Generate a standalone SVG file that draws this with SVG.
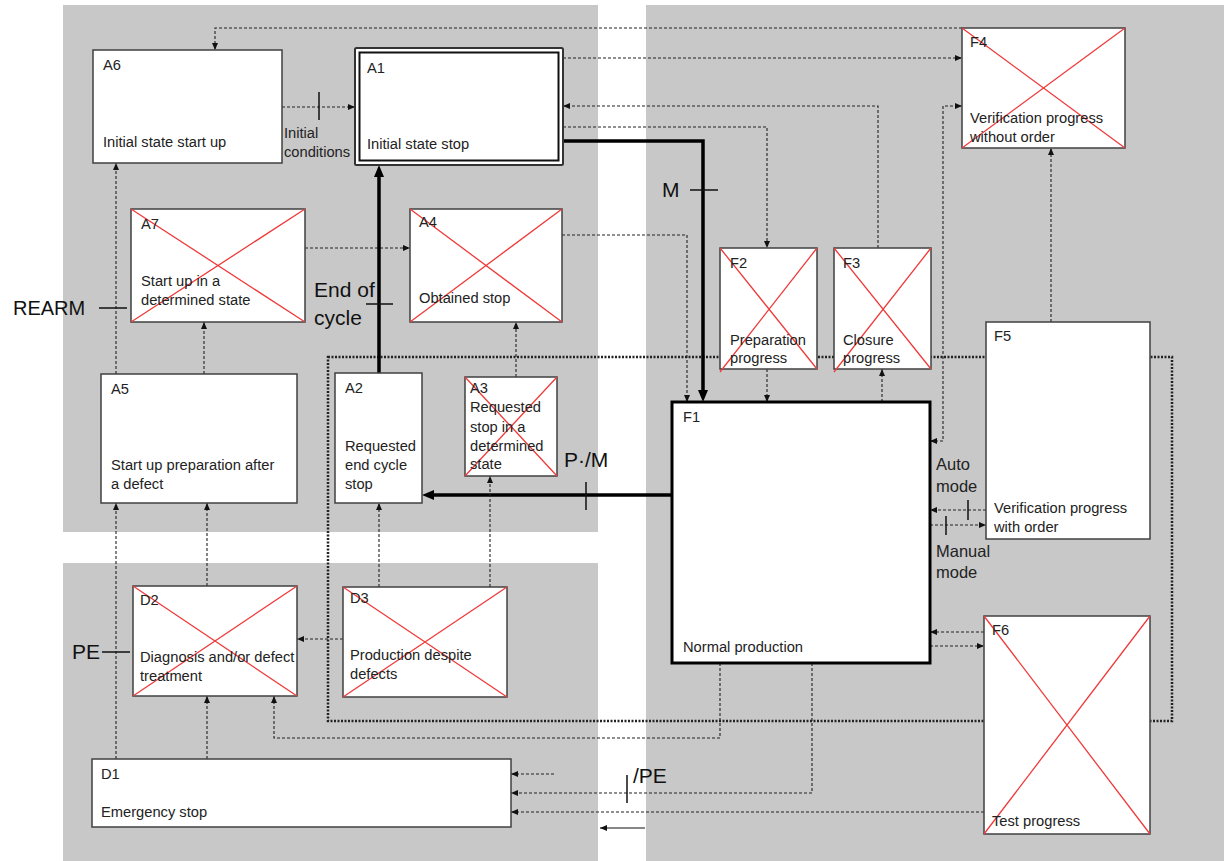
<svg xmlns="http://www.w3.org/2000/svg" width="1224" height="861" viewBox="0 0 1224 861">
<style>
.bg{fill:#c8c8c8}
.box{fill:#fff;stroke:#404040;stroke-width:1.5}
.x{stroke:#f03a3a;stroke-width:1.3;fill:none}
.t{font-family:"Liberation Sans",Arial,sans-serif;font-size:14.7px;fill:#222}
.big{font-family:"Liberation Sans",Arial,sans-serif;font-size:21px;fill:#111}
.mid{font-family:"Liberation Sans",Arial,sans-serif;font-size:16.5px;fill:#222}
.d{fill:none;stroke:#222;stroke-width:1.1;stroke-dasharray:3 2}
.s{fill:none;stroke:#111;stroke-width:1.5}
.th{fill:none;stroke:#000;stroke-width:3.5}
.dot{fill:none;stroke:#222;stroke-width:2.5;stroke-dasharray:2 1.5}
</style>
<defs>
<marker id="a" markerUnits="userSpaceOnUse" markerWidth="8" markerHeight="8" refX="7" refY="3" orient="auto-start-reverse"><path d="M0,0 L7,3 L0,6 z" fill="#111"/></marker>
<marker id="b" markerUnits="userSpaceOnUse" markerWidth="14" markerHeight="12" refX="6" refY="5" orient="auto"><path d="M0,0 L12,5 L0,10 z" fill="#000"/></marker>
</defs>
<rect class="bg" x="63" y="5" width="535" height="527"/>
<rect class="bg" x="63" y="563" width="535" height="298"/>
<rect class="bg" x="646" y="5" width="578" height="856"/>
<g id="connectors">
<rect class="dot" x="328" y="357" width="844" height="364"/>
<path class="d" d="M962,28 H215 V50" marker-end="url(#a)"/>
<path class="d" d="M563,58 H962" marker-end="url(#a)"/>
<path class="d" d="M282,107 H355" marker-end="url(#a)"/>
<path class="s" d="M319,92 V120"/>
<path class="d" d="M878,248 V106 H563" marker-end="url(#a)"/>
<path class="d" d="M563,127 H767 V248" marker-end="url(#a)"/>
<path class="th" d="M563,141 H703 V396" marker-end="url(#b)"/>
<path class="s" d="M690,190 H718"/>
<path class="d" d="M562,235 H687 V402" marker-end="url(#a)"/>
<path class="d" d="M305,248 H410" marker-end="url(#a)"/>
<path class="th" d="M379,373 V171" marker-end="url(#b)"/>
<path class="s" d="M366,304 H393"/>
<path class="d" d="M516,377 V322" marker-end="url(#a)"/>
<path class="d" d="M116,374 V163" marker-end="url(#a)"/>
<path class="s" d="M99,308 H127"/>
<path class="d" d="M204,374 V322" marker-end="url(#a)"/>
<path class="th" d="M672,495 H428" marker-end="url(#b)"/>
<path class="s" d="M586,482 V510"/>
<path class="d" d="M767,369 V402" marker-end="url(#a)"/>
<path class="d" d="M882,402 V369" marker-end="url(#a)"/>
<path class="d" d="M930,441 H943 V106 H962" marker-start="url(#a)" marker-end="url(#a)"/>
<path class="d" d="M1051,322 V148" marker-end="url(#a)"/>
<path class="d" d="M986,510 H930" marker-end="url(#a)"/>
<path class="s" d="M968,500 V520"/>
<path class="d" d="M930,525 H986" marker-end="url(#a)"/>
<path class="s" d="M946,516 V535"/>
<path class="d" d="M984,632 H930" marker-end="url(#a)"/>
<path class="d" d="M930,646 H984" marker-end="url(#a)"/>
<path class="d" d="M984,812 H511" marker-end="url(#a)"/>
<path class="d" d="M812,663 V793 H511" marker-end="url(#a)"/>
<path class="s" d="M627,775 V803"/>
<path class="d" d="M554,774 H511" marker-end="url(#a)"/>
<path fill="none" stroke="#111" stroke-width="1.2" d="M645,828 H600" marker-end="url(#a)"/>
<path class="d" d="M720,663 V738 H274 V696" marker-end="url(#a)"/>
<path class="d" d="M207,759 V696" marker-end="url(#a)"/>
<path class="d" d="M116,759 V503" marker-end="url(#a)"/>
<path class="s" d="M102,652 H130"/>
<path class="d" d="M207,586 V503" marker-end="url(#a)"/>
<path class="d" d="M379,587 V503" marker-end="url(#a)"/>
<path class="d" d="M490,587 V476" marker-end="url(#a)"/>
<path class="d" d="M343,639 H297" marker-end="url(#a)"/>
<text class="t" x="284" y="138">Initial</text>
<text class="t" x="284" y="157">conditions</text>
<text class="big" x="13" y="315" style="font-size:20px">REARM</text>
<text class="big" x="314" y="297">End of</text>
<text class="big" x="314" y="325">cycle</text>
<text class="big" x="662" y="197">M</text>
<text class="big" x="564" y="467">P·/M</text>
<text class="big" x="72" y="659">PE</text>
<text class="big" x="633" y="783">/PE</text>
<text class="mid" x="936" y="470">Auto</text>
<text class="mid" x="936" y="492">mode</text>
<text class="mid" x="936" y="557">Manual</text>
<text class="mid" x="936" y="578">mode</text>
</g>
<g id="A6"><rect class="box" x="93" y="50" width="189" height="113"/><text class="t" x="103" y="70">A6</text><text class="t" x="103" y="147">Initial state start up</text></g>
<g id="A1"><rect fill="#fff" stroke="#333" stroke-width="2" x="355" y="48" width="208" height="117" rx="1.5"/><rect fill="none" stroke="#111" stroke-width="2" x="359.5" y="52.5" width="199" height="108"/><text class="t" x="367" y="73">A1</text><text class="t" x="367" y="149">Initial state stop</text></g>
<g id="A7"><rect class="box" x="131" y="209" width="174" height="113"/><path class="x" d="M131,209 L305,322 M305,209 L131,322"/><text class="t" x="141" y="229">A7</text><text class="t" x="141" y="286">Start up in a</text><text class="t" x="141" y="305">determined state</text></g>
<g id="A4"><rect class="box" x="410" y="209" width="152" height="113"/><path class="x" d="M410,209 L562,322 M562,209 L410,322"/><text class="t" x="419" y="227">A4</text><text class="t" x="419" y="303">Obtained stop</text></g>
<g id="A5"><rect class="box" x="101" y="374" width="196" height="129"/><text class="t" x="111" y="394">A5</text><text class="t" x="111" y="470">Start up preparation after</text><text class="t" x="111" y="489">a defect</text></g>
<g id="A2"><rect class="box" x="335" y="373" width="87" height="130"/><text class="t" x="345" y="393">A2</text><text class="t" x="345" y="451">Requested</text><text class="t" x="345" y="470">end cycle</text><text class="t" x="345" y="489">stop</text></g>
<g id="A3"><rect class="box" x="465" y="377" width="92" height="99"/><path class="x" d="M465,377 L557,476 M557,377 L465,476"/><text class="t" x="470" y="393">A3</text><text class="t" x="470" y="412">Requested</text><text class="t" x="470" y="432">stop in a</text><text class="t" x="470" y="451">determined</text><text class="t" x="470" y="469">state</text></g>
<g id="F4"><rect class="box" x="962" y="28" width="163" height="120"/><path class="x" d="M962,28 L1125,148 M1125,28 L962,148"/><text class="t" x="970" y="47">F4</text><text class="t" x="970" y="123">Verification progress</text><text class="t" x="970" y="142">without order</text></g>
<g id="F2"><rect class="box" x="720" y="248" width="97" height="121"/><path class="x" d="M720,248 L817,369 M817,248 L720,372"/><text class="t" x="730" y="268">F2</text><text class="t" x="730" y="345">Preparation</text><text class="t" x="730" y="363">progress</text></g>
<g id="F3"><rect class="box" x="834" y="248" width="97" height="121"/><path class="x" d="M834,248 L931,369 M931,248 L834,372"/><text class="t" x="843" y="268">F3</text><text class="t" x="843" y="345">Closure</text><text class="t" x="843" y="363">progress</text></g>
<g id="F5"><rect class="box" x="986" y="322" width="164" height="217"/><text class="t" x="994" y="341">F5</text><text class="t" x="994" y="513">Verification progress</text><text class="t" x="994" y="532">with order</text></g>
<g id="F1"><rect fill="#fff" stroke="#000" stroke-width="3" x="672" y="402" width="258" height="261"/><text class="t" x="683" y="422">F1</text><text class="t" x="683" y="652">Normal production</text></g>
<g id="F6"><rect class="box" x="984" y="616" width="166" height="218"/><path class="x" d="M984,616 L1150,834 M1150,616 L984,834"/><text class="t" x="992" y="635">F6</text><text class="t" x="992" y="826">Test progress</text></g>
<g id="D2"><rect class="box" x="133" y="586" width="164" height="110"/><path class="x" d="M133,586 L297,696 M297,586 L133,696"/><text class="t" x="140" y="605">D2</text><text class="t" x="140" y="662">Diagnosis and/or defect</text><text class="t" x="140" y="681">treatment</text></g>
<g id="D3"><rect class="box" x="343" y="587" width="164" height="110"/><path class="x" d="M343,587 L507,697 M507,587 L343,697"/><text class="t" x="350" y="603">D3</text><text class="t" x="350" y="660">Production despite</text><text class="t" x="350" y="679">defects</text></g>
<g id="D1"><rect class="box" x="92" y="759" width="419" height="68"/><text class="t" x="101" y="779">D1</text><text class="t" x="101" y="817">Emergency stop</text></g>
</svg>
